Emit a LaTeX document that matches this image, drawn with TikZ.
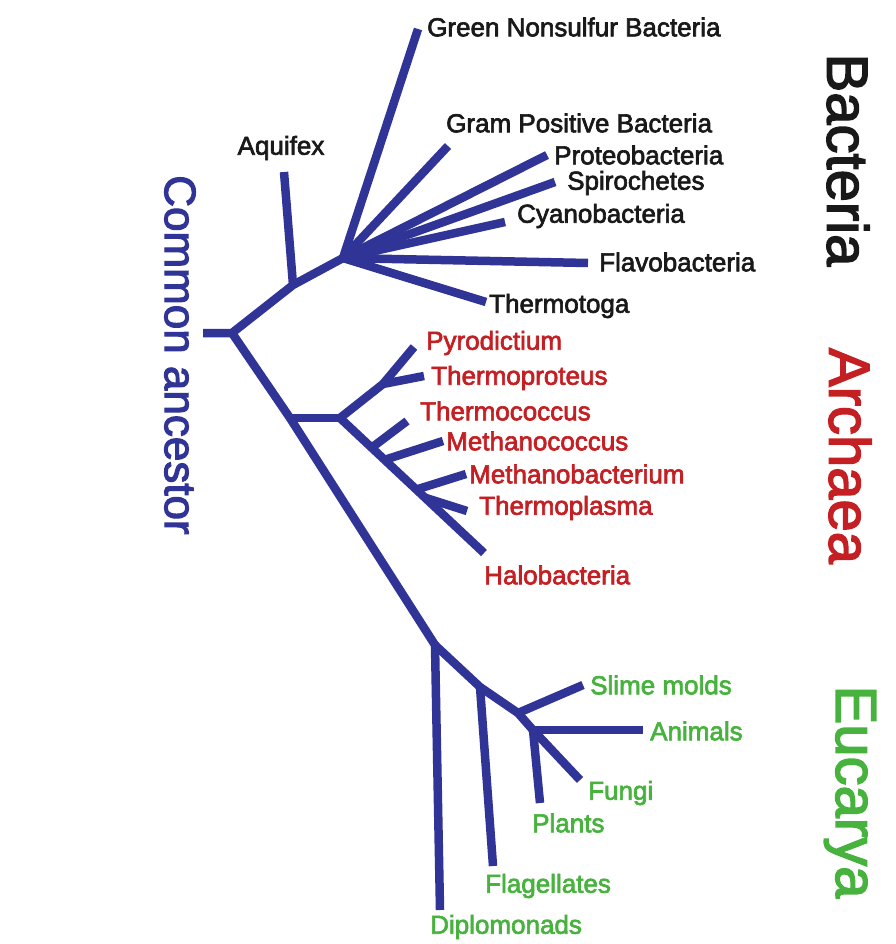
\documentclass[tikz,border=0pt]{standalone}
\usepackage{fontspec}
\setmainfont{Liberation Sans}[FakeBold=2.5]
\usetikzlibrary{calc}
\begin{document}
\begin{tikzpicture}[x=1pt,y=-1pt,
  branch/.style={draw=treeblue,line width=8.5pt,line join=round},
  lab/.style={anchor=west,inner sep=0pt,font=\fontsize{26}{30}\selectfont},
  bact/.style={lab,text=bactblack},
  arch/.style={lab,text=archred},
  euk/.style={lab,text=eukgreen},
  domainlab/.style={rotate=-90,inner sep=0pt,font=\fontsize{58}{64}\selectfont}]
\definecolor{treeblue}{RGB}{48,52,150}
\definecolor{bactblack}{RGB}{25,25,25}
\definecolor{archred}{RGB}{196,32,36}
\definecolor{eukgreen}{RGB}{72,178,62}
\useasboundingbox (0,0) rectangle (895,944);
\fill[white] (0,0) rectangle (895,944);
% junctions
\coordinate (stub) at (203,333);
\coordinate (root) at (232,333);
\coordinate (aqj) at (293,285);
\coordinate (bhub) at (343,258);
\coordinate (arj) at (290,418);
\coordinate (ahub) at (340,418);
\coordinate (pyj) at (383,384);
\coordinate (hat) at (484,553);
\coordinate (tcj) at ($(ahub)!0.22!(hat)$);
\coordinate (mcj) at ($(ahub)!0.31!(hat)$);
\coordinate (mbj) at ($(ahub)!0.53!(hat)$);
\coordinate (tpj) at ($(ahub)!0.59!(hat)$);
\coordinate (ej) at (435,645);
\coordinate (flj) at (480,687);
\coordinate (slj) at (518,713);
\coordinate (anj) at (533,730);
% tips
\coordinate (aqt) at (284,172);
\coordinate (gnt) at (418,29);
\coordinate (gpt) at (448,146);
\coordinate (prt) at (547,155);
\coordinate (spt) at (555,182);
\coordinate (cyt) at (505,222);
\coordinate (flt) at (588,263);
\coordinate (tht) at (486,302);
\coordinate (pyt) at (414,347);
\coordinate (tprt) at (424,376);
\coordinate (tct) at (407,421);
\coordinate (mct) at (443,441);
\coordinate (mbt) at (466,474);
\coordinate (tpt) at (467,511);
\coordinate (dit) at (440,910);
\coordinate (fgt) at (493,866);
\coordinate (smt) at (583,685);
\coordinate (ant) at (643,730);
\coordinate (fut) at (580,780);
\coordinate (plt) at (540,803);
% tree
\draw[branch] (stub) -- (root) -- (aqj) -- (bhub);
\draw[branch] (aqj) -- (aqt);
\draw[branch] (bhub) -- (gnt);
\draw[branch] (bhub) -- (gpt);
\draw[branch] (bhub) -- (prt);
\draw[branch] (bhub) -- (spt);
\draw[branch] (bhub) -- (cyt);
\draw[branch] (bhub) -- (flt);
\draw[branch] (bhub) -- (tht);
\draw[branch] (root) -- (arj) -- (ej);
\draw[branch] (arj) -- (ahub);
\draw[branch] (ahub) -- (pyj) -- (pyt);
\draw[branch] (pyj) -- (tprt);
\draw[branch] (ahub) -- (hat);
\draw[branch] (tcj) -- (tct);
\draw[branch] (mcj) -- (mct);
\draw[branch] (mbj) -- (mbt);
\draw[branch] (tpj) -- (tpt);
\draw[branch] (ej) -- (dit);
\draw[branch] (ej) -- (flj) -- (slj) -- (anj) -- (fut);
\draw[branch] (flj) -- (fgt);
\draw[branch] (slj) -- (smt);
\draw[branch] (anj) -- (ant);
\draw[branch] (anj) -- (plt);
% labels bacteria
\node[bact] (lgn) at (427,27) {Green Nonsulfur Bacteria};
\node[bact,anchor=center] (laq) at (281,148) {Aquifex};
\node[bact] (lgp) at (446,123) {Gram Positive Bacteria};
\node[bact] (lpr) at (554,155) {Proteobacteria};
\node[bact] (lsp) at (567,183) {Spirochetes};
\node[bact] (lcy) at (517,216) {Cyanobacteria};
\node[bact] (lfl) at (599,262) {Flavobacteria};
\node[bact] (lth) at (489,306) {Thermotoga};
% labels archaea
\node[arch] (lpy) at (426,343) {Pyrodictium};
\node[arch] (ltp) at (431,378) {Thermoproteus};
\node[arch] (ltc) at (420,411) {Thermococcus};
\node[arch] (lmc) at (446,441) {Methanococcus};
\node[arch] (lmb) at (469,474) {Methanobacterium};
\node[arch] (ltpl) at (479,508) {Thermoplasma};
\node[arch] (lha) at (484,575) {Halobacteria};
% labels eukarya
\node[euk] (lsm) at (590,685) {Slime molds};
\node[euk] (lan) at (650,731) {Animals};
\node[euk] (lfu) at (588,793) {Fungi};
\node[euk] (lpl) at (532,823) {Plants};
\node[euk] (lfg) at (485,886) {Flagellates};
\node[euk] (ldi) at (430,927) {Diplomonads};
% domain labels
\node[domainlab,text=bactblack] (dB) at (848,160) {Bacteria};
\node[domainlab,text=archred] (dA) at (850,456) {Archaea};
\node[domainlab,text=eukgreen] (dE) at (850,792) {Eucarya};
\node[domainlab,text=treeblue,font=\fontsize{44}{48}\selectfont] (dC) at (180,355) {Common ancestor};
\end{tikzpicture}
\end{document}
